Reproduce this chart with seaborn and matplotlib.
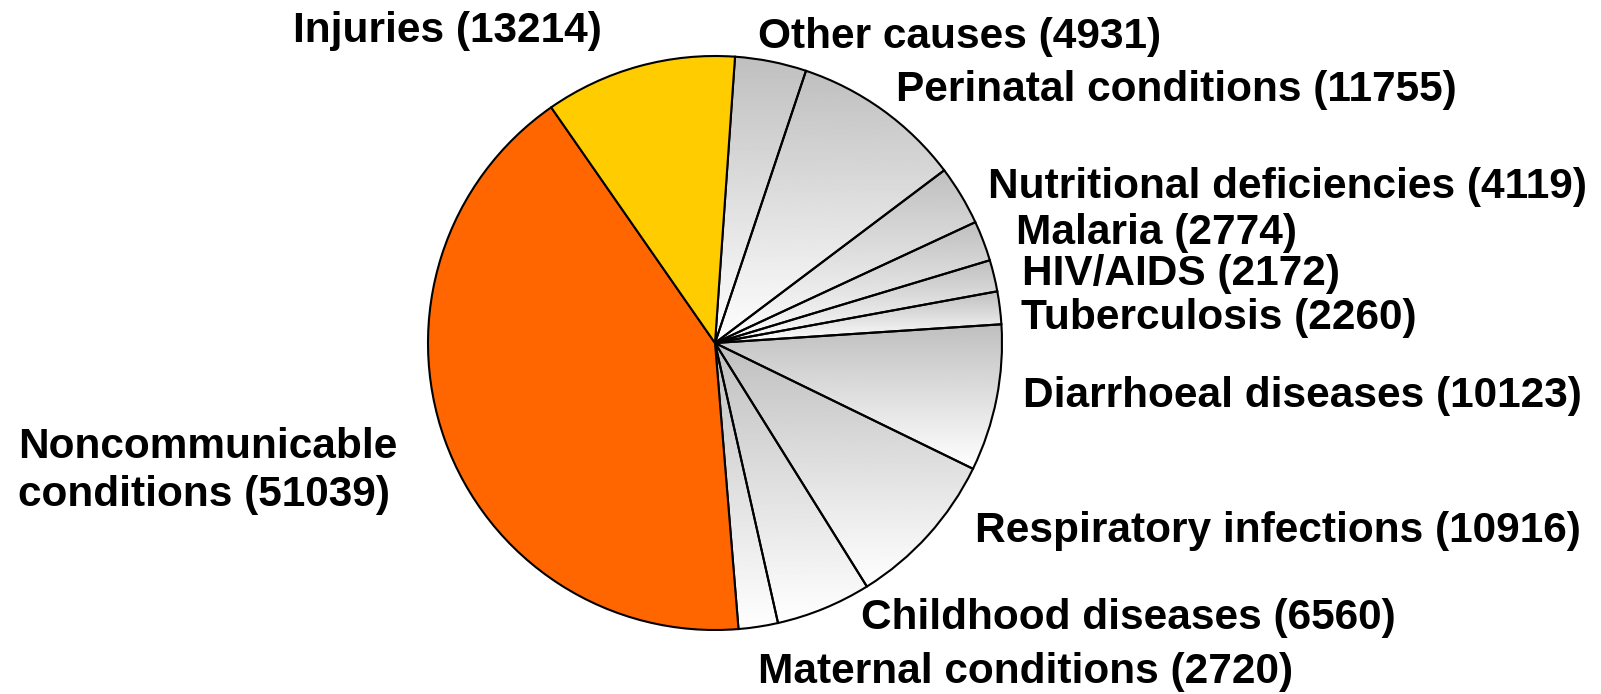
import numpy as np
import matplotlib
matplotlib.use("Agg")
import matplotlib.pyplot as plt
import seaborn as sns

# ---- data ----
causes = ["Other causes", "Perinatal conditions", "Nutritional deficiencies",
          "Malaria", "HIV/AIDS", "Tuberculosis", "Diarrhoeal diseases",
          "Respiratory infections", "Childhood diseases", "Maternal conditions",
          "Noncommunicable\nconditions", "Injuries"]
deaths = [4931, 11755, 4119, 2774, 2172, 2260, 10123, 10916, 6560, 2720, 51039, 13214]

# ---- style ----
sns.set_theme(style="white")
plt.rcParams["font.family"] = ["Liberation Sans", "DejaVu Sans"]

fig = plt.figure(figsize=(16.01, 6.94), dpi=100)
ax = fig.add_axes([0, 0, 1, 1])

W, H = 1601, 694
cx, cy, R = 715, H - 343, 287

solid = {"Noncommunicable\nconditions": "#FF6600", "Injuries": "#FFCC00"}
face = [solid.get(c, "none") for c in causes]

wedges, _ = ax.pie(deaths, radius=R, center=(cx, cy), startangle=86,
                   counterclock=False, colors=["white"] * len(deaths),
                   wedgeprops=dict(edgecolor="black", linewidth=1.5),
                   frame=False)

grad = np.linspace(0.75, 1.0, 256).reshape(-1, 1)
for w, c, f in zip(wedges, causes, face):
    w.set_zorder(2)
    if f != "none":
        w.set_facecolor(f)
    else:
        w.set_facecolor("none")
        ext = w.get_path().get_extents()
        im = ax.imshow(grad, extent=[ext.x0, ext.x1, ext.y0, ext.y1],
                       cmap="gray", vmin=0, vmax=1, aspect="auto",
                       interpolation="bilinear", zorder=1)
        im.set_clip_path(w)

# label layout (left x, center y in pixels from top)
label_pos = [(758, 37), (896, 90), (988, 187), (1016, 233), (1022, 274),
             (1021, 318), (1023, 396), (975, 531), (861, 618), (758, 672),
             (18, 471), (293, 31)]
for c, v, (lx, ly) in zip(causes, deaths, label_pos):
    ax.text(lx, H - ly, f"{c} ({v})", ha="left", va="center",
            fontsize=30.5, fontweight="bold", color="black",
            linespacing=1.27, zorder=3)

ax.set_xlim(0, W)
ax.set_ylim(0, H)
ax.set_aspect("auto")
ax.axis("off")
fig.savefig("out.png", dpi=100, facecolor="white")
